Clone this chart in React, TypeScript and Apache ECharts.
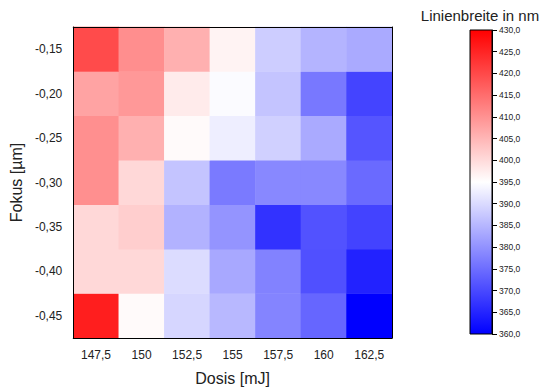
import React, { useEffect, useRef } from "react";
import * as echarts from "echarts";

const doses = ["147,5", "150", "152,5", "155", "157,5", "160", "162,5"];
const foci = ["-0,45", "-0,40", "-0,35", "-0,30", "-0,25", "-0,20", "-0,15"];

// rows from top (-0,15) to bottom (-0,45), columns by dose
const row015 = [419.7, 410.5, 405.8, 396.6, 388.1, 384.7, 383.3];
const row020 = [407.6, 409.1, 397.7, 394.5, 386.9, 376.5, 369.3];
const row025 = [410.4, 405.8, 395.7, 392.7, 388.5, 383.3, 371.7];
const row030 = [410.4, 400.4, 386.9, 376.7, 378.7, 378.7, 374.5];
const row035 = [400.4, 401.7, 384.4, 380.3, 366.9, 371.3, 369.2];
const row040 = [400.4, 400.4, 390.2, 383.1, 377.8, 371.0, 364.7];
const row045 = [425.9, 395.7, 389.4, 385.3, 378.1, 374.0, 360.0];

const rowsBottomUp = [row045, row040, row035, row030, row025, row020, row015];

const colorMin = 360;
const colorMax = 430;
const colorStep = 5;

const fmt = (v: number) => v.toFixed(1).replace(".", ",");

export default function App() {
  const ref = useRef<HTMLDivElement>(null);
  useEffect(() => {
    if (!ref.current) return;
    const chart = echarts.init(ref.current, null, { renderer: "svg" });
    const data: [number, number, number][] = [];
    rowsBottomUp.forEach((row, yi) => row.forEach((v, xi) => data.push([xi, yi, v])));
    const font = "'Liberation Sans', Arial, sans-serif";
    const txt = "#222";
    chart.setOption({
      animation: false,
      backgroundColor: "#fff",
      textStyle: { fontFamily: font },
      grid: [
        { left: 69, top: 27, width: 323, height: 311, show: false },
        {
          left: 470,
          top: 30,
          width: 22,
          height: 304,
          show: true,
          borderColor: "#000",
          borderWidth: 1,
          backgroundColor: new echarts.graphic.LinearGradient(0, 0, 0, 1, [
            { offset: 0, color: "#ff0000" },
            { offset: 0.5, color: "#ffffff" },
            { offset: 1, color: "#0000ff" },
          ]),
        },
      ],
      xAxis: [
        {
          type: "category",
          gridIndex: 0,
          data: doses,
          z: 10,
          name: "Dosis [mJ]",
          nameLocation: "middle",
          nameGap: 32,
          nameTextStyle: { fontSize: 16, color: txt, fontFamily: font },
          axisLine: { lineStyle: { color: "#000", width: 1 } },
          axisTick: { alignWithLabel: true, length: 5, lineStyle: { color: "#000" } },
          axisLabel: { fontSize: 12, color: txt, margin: 11, fontFamily: font },
          splitLine: { show: false },
        },
        {
          type: "category",
          gridIndex: 0,
          data: doses,
          position: "top",
          z: 10,
          axisLine: { lineStyle: { color: "#000", width: 1 } },
          axisTick: { show: false },
          axisLabel: { show: false },
        },
        {
          type: "category",
          gridIndex: 1,
          data: [""],
          show: false,
        },
      ],
      yAxis: [
        {
          type: "category",
          gridIndex: 0,
          data: foci,
          z: 10,
          name: "Fokus [µm]",
          nameLocation: "middle",
          nameGap: 46,
          nameRotate: 90,
          nameTextStyle: { fontSize: 16, color: txt, fontFamily: font },
          axisLine: { lineStyle: { color: "#000", width: 1 } },
          axisTick: { alignWithLabel: true, length: 6, lineStyle: { color: "#000" } },
          axisLabel: { fontSize: 12, color: txt, margin: 11, fontFamily: font },
          splitLine: { show: false },
        },
        {
          type: "category",
          gridIndex: 0,
          data: foci,
          position: "right",
          z: 10,
          axisLine: { lineStyle: { color: "#000", width: 1 } },
          axisTick: { show: false },
          axisLabel: { show: false },
        },
        {
          type: "value",
          gridIndex: 1,
          position: "right",
          min: colorMin,
          max: colorMax,
          interval: colorStep,
          z: 10,
          axisLine: { show: true, lineStyle: { color: "#000", width: 1 } },
          axisTick: { show: true, length: 5, lineStyle: { color: "#000" } },
          axisLabel: {
            fontSize: 8.5,
            color: txt,
            margin: 7,
            fontFamily: font,
            formatter: (v: number) => fmt(v),
          },
          splitLine: { show: false },
        },
      ],
      visualMap: {
        show: false,
        type: "continuous",
        min: colorMin,
        max: colorMax,
        dimension: 2,
        seriesIndex: 0,
        inRange: { color: ["#0000ff", "#ffffff", "#ff0000"] },
      },
      graphic: [
        {
          type: "text",
          x: 480,
          y: 15,
          style: {
            text: "Linienbreite in nm",
            fontSize: 15,
            fontFamily: font,
            fill: txt,
            align: "center",
            verticalAlign: "middle",
          },
        },
      ],
      series: [
        {
          type: "heatmap",
          xAxisIndex: 0,
          yAxisIndex: 0,
          data,
          itemStyle: { borderWidth: 0 },
          emphasis: { disabled: true },
        },
      ],
    });
    return () => chart.dispose();
  }, []);
  return (
    <div
      ref={ref}
      style={{ position: "fixed", left: 0, top: 0, width: 549, height: 391 }}
    />
  );
}
